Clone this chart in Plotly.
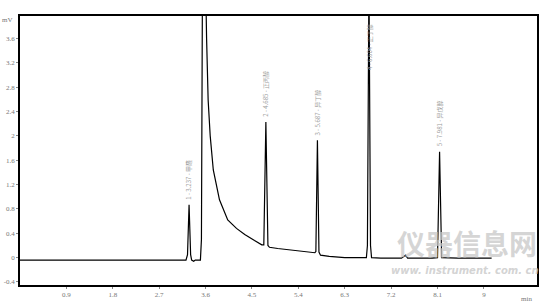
import plotly.graph_objects as go

# Chromatogram trace (time in min, signal in mV)
times = [0.0, 1.0, 1.6, 2.2, 2.8, 3.10, 3.18, 3.22, 3.25, 3.28, 3.31, 3.33, 3.37, 3.40, 3.50,
         3.52, 3.54, 3.60, 3.62, 3.65, 3.69, 3.75, 3.87, 4.03, 4.20, 4.36, 4.55, 4.69, 4.73,
         4.77, 4.81, 4.84, 5.00, 5.30, 5.55, 5.72, 5.74, 5.77, 5.80, 5.83, 6.00, 6.30,
         6.60, 6.72, 6.74, 6.77, 6.80, 6.82, 7.00, 7.40, 7.48, 7.52, 8.00, 8.10, 8.14,
         8.18, 8.50, 9.15]
signal = [-0.04, -0.04, -0.04, -0.04, -0.04, -0.04, -0.03, -0.04, 0.05, 0.87, 0.05, -0.04, -0.06, -0.04, -0.04,
          0.30, 4.60, 4.60, 3.60, 2.59, 2.00, 1.44, 0.95, 0.62, 0.48, 0.38, 0.28, 0.21, 0.21,
          2.23, 0.20, 0.17, 0.15, 0.12, 0.09, 0.08, 0.10, 1.93, 0.09, 0.04, 0.02, 0.00,
          0.00, 0.00, 0.20, 4.60, 0.20, 0.00, -0.01, -0.01, 0.04, -0.01, -0.01, 0.00, 1.74,
          0.00, -0.01, -0.01]

# Peak labels
label_times = [3.28, 4.77, 5.77, 6.77, 8.14]
label_heights = [0.87, 2.23, 1.93, 3.0, 1.74]
label_texts = ["1 - 3.237 - 甲醛", "2 - 4.685 - 正丙醇", "3 - 5.687 - 异丁醇", "4 - 6.604 - 正丁醇", "5 - 7.981 - 异戊醇"]

# Axis ticks
x_ticks = [0.9, 1.8, 2.7, 3.6, 4.5, 5.4, 6.3, 7.2, 8.1, 9.0]
x_tick_labels = ["0.9", "1.8", "2.7", "3.6", "4.5", "5.4", "6.3", "7.2", "8.1", "9"]
y_ticks = [-0.4, 0, 0.4, 0.8, 1.2, 1.6, 2.0, 2.4, 2.8, 3.2, 3.6]
y_tick_labels = ["-0.4", "0", "0.4", "0.8", "1.2", "1.6", "2", "2.4", "2.8", "3.2", "3.6"]

font_serif = "Liberation Serif, DejaVu Serif, serif"

fig = go.Figure()
fig.add_trace(go.Scatter(x=times, y=signal, mode="lines",
                         line=dict(color="black", width=1.2), hoverinfo="skip"))

annotations = []
for t, h, txt in zip(label_times, label_heights, label_texts):
    annotations.append(dict(x=t, y=h, xref="x", yref="y", text=txt, textangle=-90,
                            showarrow=False, yanchor="bottom", xanchor="center", yshift=3,
                            font=dict(family="Noto Sans CJK SC, " + font_serif, size=6, color="#9a9a9a")))

annotations.append(dict(x=-0.01, y=0.985, xref="paper", yref="paper", text="mV", showarrow=False,
                        xanchor="right", yanchor="middle",
                        font=dict(family=font_serif, size=7, color="#777")))
annotations.append(dict(x=0.98, y=-0.03, xref="paper", yref="paper", text="min", showarrow=False,
                        xanchor="center", yanchor="top",
                        font=dict(family=font_serif, size=7, color="#777")))
# watermark
annotations.append(dict(x=0.865, y=0.155, xref="paper", yref="paper", text="<b>仪器信息网</b>",
                        showarrow=False, xanchor="center", yanchor="middle",
                        font=dict(family="Noto Sans CJK SC", size=28, color="rgba(200,200,200,0.75)")))
annotations.append(dict(x=0.86, y=0.055, xref="paper", yref="paper", text="<b><i>www. instrument. com. cn</i></b>",
                        showarrow=False, xanchor="center", yanchor="middle",
                        font=dict(family="DejaVu Sans", size=10, color="rgba(200,200,200,0.8)")))

fig.update_layout(
    width=555, height=302,
    margin=dict(l=20, r=18, t=16, b=17, autoexpand=False),
    paper_bgcolor="white", plot_bgcolor="white",
    showlegend=False,
    annotations=annotations,
    xaxis=dict(range=[0, 10.03], tickvals=x_ticks, ticktext=x_tick_labels, automargin=False,
               showgrid=False, zeroline=False, showline=True, linecolor="black", linewidth=1.5,
               mirror=True, ticks="outside", ticklen=2, tickcolor="#888",
               tickfont=dict(family=font_serif, size=7, color="#777")),
    yaxis=dict(range=[-0.45, 3.97], tickvals=y_ticks, ticktext=y_tick_labels, automargin=False,
               showgrid=False, zeroline=False, showline=True, linecolor="black", linewidth=1.5,
               mirror=True, ticks="outside", ticklen=2, tickcolor="#888",
               tickfont=dict(family=font_serif, size=7, color="#777")),
)

fig.write_html("out.html")
